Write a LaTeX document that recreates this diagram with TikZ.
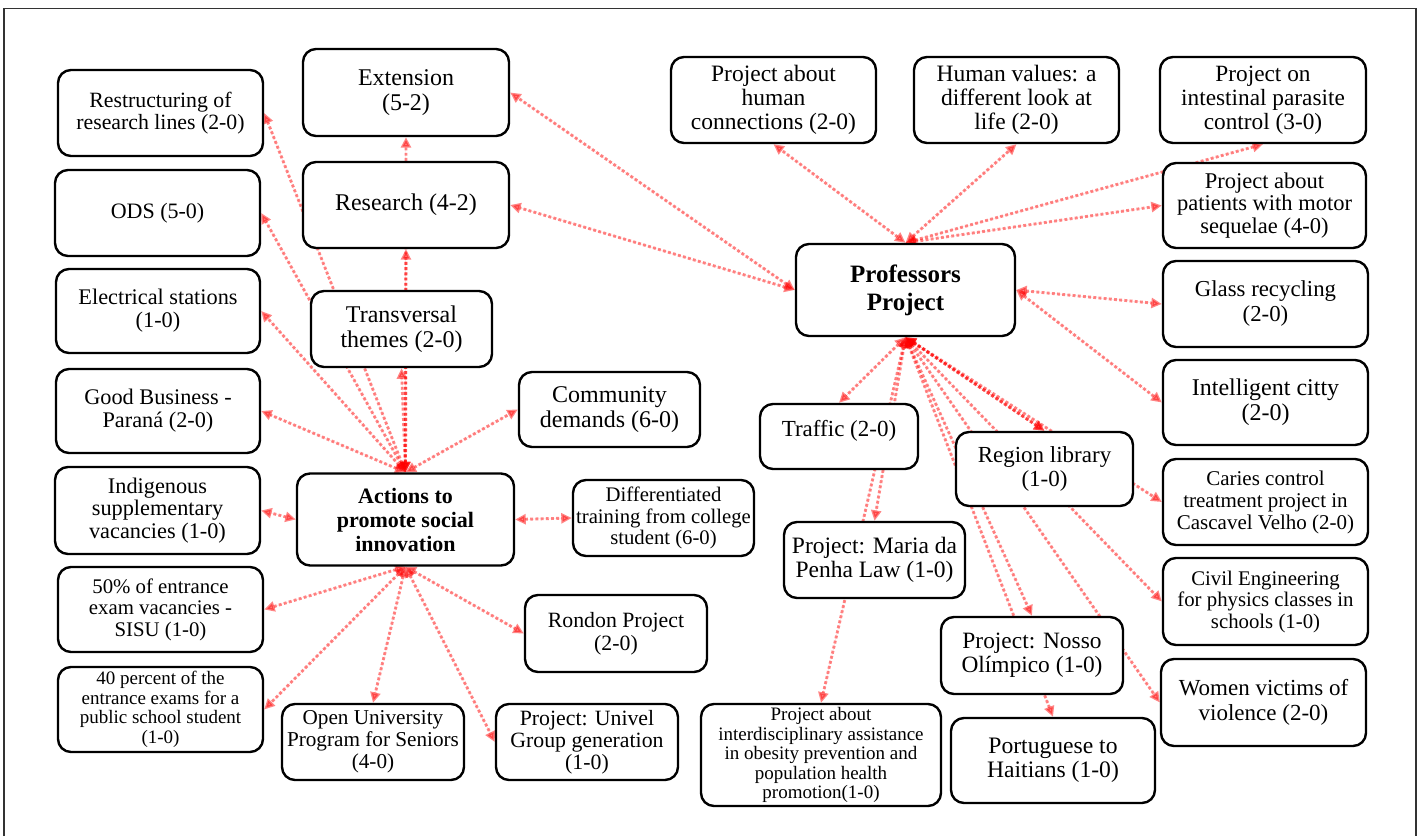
\documentclass[tikz,border=0pt]{standalone}
\usepackage{fontspec}
\setmainfont{Liberation Serif}
\usetikzlibrary{arrows.meta}
\pgfdeclarelayer{paper}
\pgfdeclarelayer{links}
\pgfsetlayers{paper,links,main}
\definecolor{linkred}{RGB}{255,0,0}

\tikzset{
  box/.style={draw=black, line width=2.4pt, rounded corners=13pt, fill=white,
              align=center, inner sep=0pt},
  wh/.style 2 args={minimum width=#1pt, minimum height=#2pt},
  fz/.style 2 args={font=\fontsize{#1}{#2}\selectfont},
  bfz/.style 2 args={font=\fontsize{#1}{#2}\selectfont\bfseries},
  link/.style={draw=linkred, fill=linkred, opacity=0.48, line width=2.9pt,
               dash pattern=on 2.9pt off 2.3pt,
               >={Triangle[length=10.5pt,width=10pt]}, <->},
  frame/.style={draw=black!80, line width=1.3pt}
}

\begin{document}
\begin{tikzpicture}[x=1pt, y=-1pt]
\useasboundingbox (0,0) rectangle (1419,836);
\begin{pgfonlayer}{paper}
  \fill[white] (0,0) rectangle (1419,836);
  \draw[frame] (4,836) -- (4,8.5) -- (1416,8.5) -- (1416,836);
\end{pgfonlayer}

% ---- left cluster ----
\node[box, wh={206}{87}, fz={24}{25}] (ext) at (406,92.5) {Extension\\(5-2)};
\node[box, wh={205}{86}, fz={21.8}{22}] (restr) at (160.5,113) {Restructuring of\\research lines (2-0)};
\node[box, wh={206}{86}, fz={24}{25}] (res) at (406,205) {Research (4-2)};
\node[box, wh={205}{86}, fz={22}{22}] (ods) at (157.5,213) {ODS (5-0)};
\node[box, wh={181}{76}, fz={24}{25}] (trans) at (401.5,329) {Transversal\\themes (2-0)};
\node[box, wh={204}{84}, fz={22.3}{23}] (elec) at (158,311) {Electrical stations\\(1-0)};
\node[box, wh={204}{84}, fz={22.3}{23}] (good) at (158,411) {Good Business -\\Paraná (2-0)};
\node[box, wh={181}{75}, fz={24}{25}] (comm) at (609.5,409.5) {Community\\demands (6-0)};
\node[box, wh={217}{92}, bfz={22}{24}] (act) at (405.5,519.5) {Actions to\\promote social\\innovation};
\node[box, wh={205}{87}, fz={22.3}{22.5}] (indig) at (157.5,510.5) {Indigenous\\supplementary\\vacancies (1-0)};
\node[box, wh={181}{76}, fz={20.7}{21.5}] (diff) at (663.5,518) {Differentiated\\training from college\\student (6-0)};
\node[box, wh={205}{85}, fz={20.8}{21.5}] (sisu) at (160.5,609.5) {50\% of entrance\\exam vacancies -\\SISU (1-0)};
\node[box, wh={182}{77}, fz={21.8}{22.5}] (rondon) at (616,633.5) {Rondon Project\\(2-0)};
\node[box, wh={205}{85}, fz={19}{19.5}] (forty) at (160.5,709.5) {40 percent of the\\entrance exams for a\\public school student\\(1-0)};
\node[box, wh={182}{76}, fz={21.2}{22}] (open) at (373,742) {Open University\\Program for Seniors\\(4-0)};
\node[box, wh={182}{76}, fz={21.8}{22}] (univel) at (587,742) {Project: Univel\\Group generation\\(1-0)};

% ---- right cluster ----
\node[box, wh={240}{102}, fz={19}{19.5}] (obes) at (821,755) {Project about\\interdisciplinary assistance\\in obesity prevention and\\population health\\promotion(1-0)};
\node[box, wh={205}{86}, fz={23.5}{24}] (hum) at (773.5,100) {Project about\\human\\connections (2-0)};
\node[box, wh={205}{86}, fz={23.5}{24}] (val) at (1016.5,100) {Human values: a\\different look at\\life (2-0)};
\node[box, wh={206}{86}, fz={23.3}{24}] (intest) at (1263,100) {Project on\\intestinal parasite\\control (3-0)};
\node[box, wh={203}{85}, fz={22.5}{22.5}] (motor) at (1264.5,205.5) {Project about\\patients with motor\\sequelae (4-0)};
\node[box, wh={219}{92}, bfz={25}{28}] (prof) at (905.5,290) {Professors\\Project};
\node[box, wh={205}{86}, fz={22.8}{25}] (glass) at (1265.5,304) {Glass recycling\\(2-0)};
\node[box, wh={205}{85}, fz={24}{25}] (city) at (1265.5,402.5) {Intelligent citty\\(2-0)};
\node[box, wh={158}{65}, fz={23}{24}] (traffic) at (839,436.5) {\raisebox{6pt}[\height][\depth]{Traffic (2-0)}};
\node[box, wh={177}{74}, fz={23}{24}] (region) at (1044.5,469) {Region library\\(1-0)};
\node[box, wh={205}{86}, fz={21}{22}] (caries) at (1265.5,502) {Caries control\\treatment project in\\Cascavel Velho (2-0)};
\node[box, wh={181}{76}, fz={23.5}{24}] (maria) at (874.5,560) {Project: Maria da\\Penha Law (1-0)};
\node[box, wh={205}{87}, fz={20.8}{21.5}] (civil) at (1265.5,601.5) {Civil Engineering\\for physics classes in\\schools (1-0)};
\node[box, wh={182}{77}, fz={23.4}{24}] (nosso) at (1032,655.5) {Project: Nosso\\Olímpico (1-0)};
\node[box, wh={205}{87}, fz={23}{25}] (women) at (1263.5,702.5) {Women victims of\\violence (2-0)};
\node[box, wh={204}{85}, fz={23.6}{24}] (port) at (1053,760.5) {Portuguese to\\Haitians (1-0)};

% ---- connectors, kept behind the boxes ----
\begin{pgfonlayer}{links}
  % social innovation actions
  \draw[link] (act.north) -- (restr.east);
  \draw[link] (act.north) -- (ods.east);
  \draw[link] (act.north) -- (elec.east);
  \draw[link] (act.north) -- (good.east);
  \draw[link] (act.north) -- (trans.south);
  \draw[link] (act.north) -- (res.south);
  \draw[link] (act.north) -- (ext.south);
  \draw[link] (act.north) -- (comm.west);
  \draw[link] (act.west) -- (indig.east);
  \draw[link] (act.east) -- (diff.west);
  \draw[link] (act.south) -- (sisu.east);
  \draw[link] (act.south) -- (forty.east);
  \draw[link] (act.south) -- (open.north);
  \draw[link] (act.south) -- (univel.west);
  \draw[link] (act.south) -- (rondon.west);
  % professors project
  \draw[link] (prof.west) -- (ext.east);
  \draw[link] (prof.west) -- (res.east);
  \draw[link] (prof.north) -- (hum.south);
  \draw[link] (prof.north) -- (val.south);
  \draw[link] (prof.north) -- (intest.south);
  \draw[link] (prof.north) -- (motor.west);
  \draw[link] (prof.east) -- (glass.west);
  \draw[link] (prof.east) -- (city.west);
  \draw[link] (prof.south) -- (traffic.north);
  \draw[link] (prof.south) -- (maria.north);
  \draw[link] (prof.south) -- (obes.north);
  \draw[link] (prof.south) -- (region.north);
  \draw[link] (prof.south) -- (region.north);
  \draw[link] (prof.south) -- (nosso.north);
  \draw[link] (prof.south) -- (port.north);
  \draw[link] (prof.south) -- (caries.west);
  \draw[link] (prof.south) -- (civil.west);
  \draw[link] (prof.south) -- (women.west);
\end{pgfonlayer}
\end{tikzpicture}
\end{document}
